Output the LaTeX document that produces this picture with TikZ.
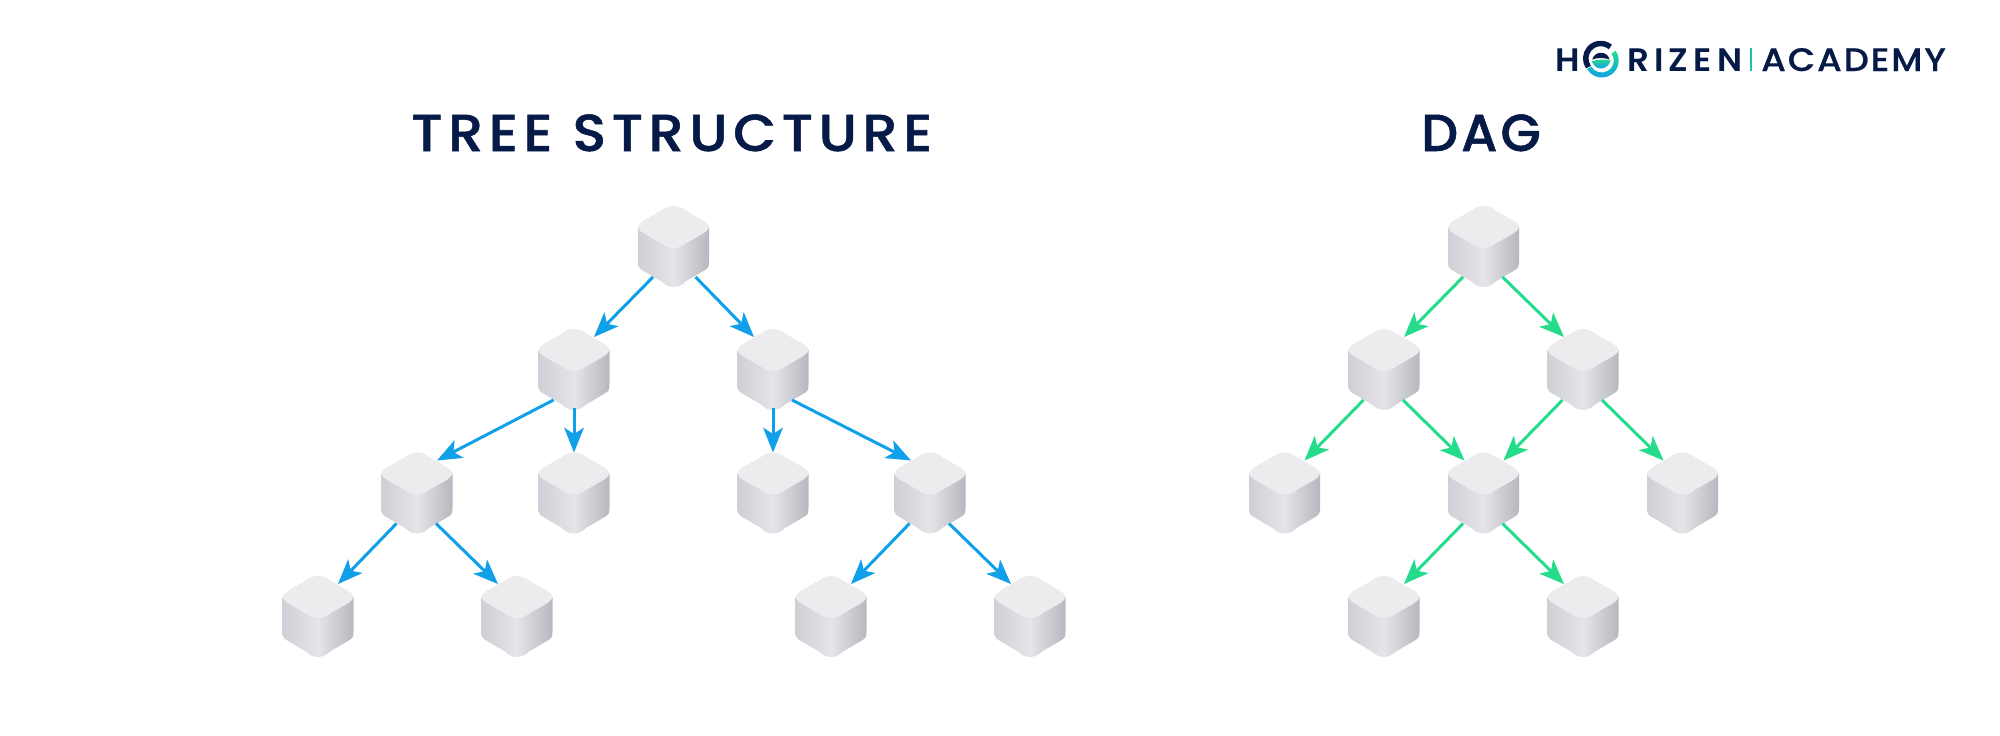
\documentclass[tikz,border=0pt]{standalone}
\usepackage{fontspec}
\usetikzlibrary{arrows.meta,calc}
\setmainfont{Poppins}
\newfontfamily\titlefont{Poppins Medium}[LetterSpace=10.6,FakeBold=1,FakeStretch=1.07]
\newfontfamily\dagfont{Poppins Medium}[LetterSpace=6,FakeBold=1]
\newfontfamily\logofont{Poppins SemiBold}[LetterSpace=16,FakeStretch=1.05]
\newfontfamily\logofontb{Poppins Medium}[LetterSpace=5.9,FakeBold=0.6,FakeStretch=1.09]
\definecolor{navy}{HTML}{051A46}
\definecolor{blueline}{HTML}{10A0EA}
\definecolor{greenline}{HTML}{24DC8C}
\definecolor{topface}{HTML}{ECECEE}
\definecolor{sideA}{HTML}{CFCFD6}
\definecolor{sideB}{HTML}{E4E4E9}
\definecolor{sideC}{HTML}{B7B7BF}
\tikzset{
  x=1pt,y=-1pt,
  cubebox/.style={minimum width=71pt,minimum height=81pt,inner sep=0pt,outer sep=0pt,anchor=north},
  titletext/.style={font=\titlefont\fontsize{52}{52}\selectfont,text=navy,inner sep=0pt,anchor=base west},
  dagtext/.style={font=\dagfont\fontsize{52}{52}\selectfont,text=navy,inner sep=0pt,anchor=base west},
  logotext/.style={font=\logofont\fontsize{32.5}{32}\selectfont,text=navy,inner sep=0pt,anchor=base west},
  logotextb/.style={font=\logofontb\fontsize{32.5}{32}\selectfont,text=navy,inner sep=0pt,anchor=base west},
  bluearrow/.style={draw=blueline,line width=3pt,-{Stealth[length=25pt,width=20pt,inset=6.5pt,line width=0pt]}},
  greenarrow/.style={draw=greenline,line width=3pt,-{Stealth[length=25pt,width=20pt,inset=6.5pt,line width=0pt]}},
  cubeside/.style={left color=sideA,right color=sideC,middle color=sideB},
  cubetop/.style={fill=topface,draw=none},
}
% cube: name, centre x, top y
\newcommand{\cubeat}[3]{%
  \begin{scope}[shift={(#2,#3)}]
    \shade[cubeside]
      (-35.5,21) -- (-35.5,55) .. controls (-35.5,61.5) and (-35,62) .. (-29,65.5)
      -- (-12,75.5) .. controls (-5,82.8) and (5,82.8) .. (12,75.5)
      -- (29,65.5) .. controls (35,62) and (35.5,61.5) .. (35.5,55) -- (35.5,21) -- cycle;
    \fill[cubetop]
      (-12,4.5) .. controls (-5,-1.5) and (5,-1.5) .. (12,4.5)
      -- (27,13) .. controls (38,19) and (38,23) .. (27,29)
      -- (12,37.5) .. controls (5,43.5) and (-5,43.5) .. (-12,37.5)
      -- (-27,29) .. controls (-38,23) and (-38,19) .. (-27,13) -- cycle;
  \end{scope}
  \node[cubebox] (#1) at (#2,#3) {};
  \coordinate (#1-bl) at ($(#1.north)+(-20.5,71)$);
  \coordinate (#1-br) at ($(#1.north)+(19,71)$);
  \coordinate (#1-tl) at ($(#1.north)+(-19,8)$);
  \coordinate (#1-tr) at ($(#1.north)+(20,8)$);
  \coordinate (#1-b) at ($(#1.north)+(0,79)$);
  \coordinate (#1-t) at ($(#1.north)+(0,0)$);
}
\begin{document}
\begin{tikzpicture}
\useasboundingbox (0,0) rectangle (2000,736);
\fill[white] (0,0) rectangle (2000,736);

\node[titletext] (title1) at (411,151) {TREE STRUCTURE};
\node[dagtext] (title2) at (1421,151) {DAG};

% logo
\node[logotext] (logoH) at (1555,71) {H};
\node[logotext] (logoR) at (1627,71) {RIZEN};
\fill[blueline!50!greenline] (1750,48) rectangle (1751.5,71);
\node[logotextb] (logoA) at (1761,71) {ACADEMY};
\begin{scope}[shift={(1600.7,58.5)}]
  \draw[navy,line width=5.5pt] (-50:15) arc[start angle=-50,end angle=-215,radius=15];
  \fill[navy] (-8.5,1) .. controls (-6,-7.5) and (6,-8.5) .. (9,1) .. controls (4,-1) and (-4,-1) .. cycle;
  \shade[top color=greenline,bottom color=blueline]
    (-9,3) .. controls (-3,0.5) and (4,0.5) .. (10,2) .. controls (8,8) and (4,10) .. (0,10) .. controls (-4,10) and (-7,7) .. cycle;
\end{scope}
\begin{scope}[shift={(1601.7,60.5)}]
  \shade[top color=greenline,bottom color=blueline]
    (-35:17) arc[start angle=-35,end angle=150,radius=17]
    -- (150:12) arc[start angle=150,end angle=-35,radius=12] -- cycle;
\end{scope}

% tree
\cubeat{a}{673.5}{206}
\coordinate (a-br) at ($(a.north)+(22,71)$);
\cubeat{b}{574}{329}
\cubeat{c}{773}{329}
\cubeat{d}{417}{452.5}
\cubeat{e}{574}{452.5}
\cubeat{f}{773}{452.5}
\cubeat{g}{930}{452.5}
\cubeat{h}{318}{576}
\cubeat{i}{517}{576}
\cubeat{j}{831}{576}
\cubeat{k}{1030}{576}

\draw[bluearrow] (a-bl) -- (b-tr);
\draw[bluearrow] (a-br) -- (c-tl);
\draw[bluearrow] (b-bl) -- (d-tr);
\draw[bluearrow] (b-b) -- (e-t);
\draw[bluearrow] (c-b) -- (f-t);
\draw[bluearrow] (c-br) -- (g-tl);
\draw[bluearrow] (d-bl) -- (h-tr);
\draw[bluearrow] (d-br) -- (i-tl);
\draw[bluearrow] (g-bl) -- (j-tr);
\draw[bluearrow] (g-br) -- (k-tl);

% dag
\cubeat{p}{1483.5}{206}
\cubeat{q}{1384}{329}
\cubeat{r}{1583}{329}
\cubeat{s}{1284.5}{452.5}
\cubeat{u}{1483.5}{452.5}
\cubeat{v}{1682.5}{452.5}
\cubeat{w}{1384}{576}
\cubeat{y}{1583}{576}

\draw[greenarrow] (p-bl) -- (q-tr);
\draw[greenarrow] (p-br) -- (r-tl);
\draw[greenarrow] (q-bl) -- (s-tr);
\draw[greenarrow] (q-br) -- (u-tl);
\draw[greenarrow] (r-bl) -- (u-tr);
\draw[greenarrow] (r-br) -- (v-tl);
\draw[greenarrow] (u-bl) -- (w-tr);
\draw[greenarrow] (u-br) -- (y-tl);
\end{tikzpicture}
\end{document}
